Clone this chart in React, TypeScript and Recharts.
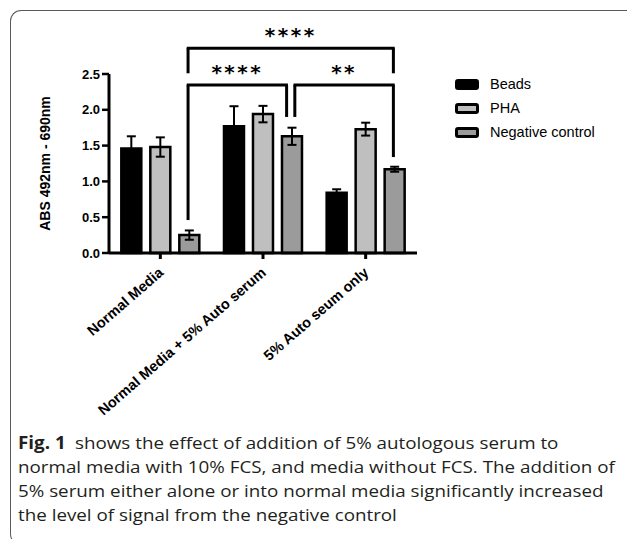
import {
    BarChart,
    Bar,
    XAxis,
    YAxis,
    ErrorBar,
    ReferenceLine,
    ReferenceDot
} from "recharts";

// groups on the x axis
const categories = ["Normal Media", "Normal Media + 5% Auto serum", "5% Auto seum only"];

// series values and their error (SEM)
const beads = [1.46, 1.77, 0.84];
const beadsErr = [0.17, 0.28, 0.05];
const pha = [1.48, 1.94, 1.73];
const phaErr = [0.135, 0.115, 0.09];
const negative = [0.25, 1.63, 1.17];
const negativeErr = [0.065, 0.12, 0.035];

const yTicks = [0, 0.5, 1, 1.5, 2, 2.5];

// significance brackets, x in group units (group i spans i..i+1), y in ABS units
const brackets = [
    { x1: 0.77, x2: 2.77, y1: 2.51, y2: 2.51, top: 2.86, stars: "****" },
    { x1: 0.77, x2: 1.73, y1: 0.46, y2: 1.9, top: 2.345, stars: "****" },
    { x1: 1.81, x2: 2.77, y1: 1.9, y2: 1.34, top: 2.345, stars: "**" }
];

const series = [
    { key: "beads", err: "beadsErr", name: "Beads", color: "#000000" },
    { key: "pha", err: "phaErr", name: "PHA", color: "#bfbfbf" },
    { key: "negative", err: "negativeErr", name: "Negative control", color: "#9b9b9b" }
];

const data = categories.map((name, i) => ({
    name,
    pos: i + 0.5,
    beads: beads[i],
    beadsErr: beadsErr[i],
    pha: pha[i],
    phaErr: phaErr[i],
    negative: negative[i],
    negativeErr: negativeErr[i]
}));

const axisFont = "'Liberation Sans', Arial, sans-serif";

function XTick({ x, y, payload }: any) {
    const tx = x + 4;
    const ty = y + 13;
    return (
        <text x={tx} y={ty} transform={`rotate(-41, ${tx}, ${ty})`} textAnchor="end"
            fontFamily={axisFont} fontWeight="bold" fontSize={14.5} fill="#000">
            {categories[Math.floor(payload.value)]}
        </text>
    );
}

function App() {
    return (
        <div style={{ position: "absolute", left: 0, top: 0, width: 627, height: 539, overflow: "hidden", background: "#fff" }}>
            <div style={{
                position: "absolute", left: 10, top: 10, width: 660, height: 533,
                borderTop: "1.5px solid #5a5a5a", borderLeft: "1.5px solid #5a5a5a", borderBottom: "1.5px solid #5a5a5a",
                borderRadius: 11
            }} />

            <div style={{ position: "absolute", left: 0, top: 0 }}>
                <BarChart width={627} height={430} data={data}
                    margin={{ top: 74, right: 210, bottom: 27, left: 21 }}
                    barCategoryGap="12%" barGap={9}>
                    <XAxis dataKey="pos" type="number" domain={[0, 3]} ticks={[0.5, 1.5, 2.5]}
                        allowDataOverflow height={150} interval={0}
                        axisLine={{ stroke: "#000", strokeWidth: 3 }}
                        tickLine={{ stroke: "#000", strokeWidth: 3 }}
                        tickSize={6} tick={<XTick />} />
                    <YAxis domain={[0, 2.5]} ticks={yTicks} width={88}
                        tickFormatter={(v: number) => v.toFixed(1)}
                        axisLine={{ stroke: "#000", strokeWidth: 3 }}
                        tickLine={{ stroke: "#000", strokeWidth: 2.5 }}
                        tickSize={7} tickMargin={2}
                        tick={{ fill: "#000", fontFamily: axisFont, fontWeight: "bold", fontSize: 13 }}
                        label={{
                            value: "ABS 492nm - 690nm", angle: -90, position: "insideLeft", offset: 24,
                            style: { textAnchor: "middle", fill: "#000", fontFamily: axisFont, fontWeight: "bold", fontSize: 14 }
                        }} />
                    {series.map(s => (
                        <Bar key={s.key} dataKey={s.key} name={s.name} fill={s.color}
                            stroke="#000" strokeWidth={2.5} isAnimationActive={false}>
                            <ErrorBar dataKey={s.err} width={4.5} stroke="#000" strokeWidth={2} direction="y" />
                        </Bar>
                    ))}
                    {brackets.map((b, i) => [
                        <ReferenceLine key={`l${i}`} ifOverflow="visible" stroke="#000" strokeWidth={3}
                            segment={[{ x: b.x1, y: b.y1 }, { x: b.x1, y: b.top }]} />,
                        <ReferenceLine key={`t${i}`} ifOverflow="visible" stroke="#000" strokeWidth={3}
                            segment={[{ x: b.x1 - 0.013, y: b.top }, { x: b.x2 + 0.013, y: b.top }]} />,
                        <ReferenceLine key={`r${i}`} ifOverflow="visible" stroke="#000" strokeWidth={3}
                            segment={[{ x: b.x2, y: b.top }, { x: b.x2, y: b.y2 }]} />,
                        <ReferenceDot key={`s${i}`} ifOverflow="visible" r={0} stroke="none"
                            x={(b.x1 + b.x2) / 2} y={b.top + 0.18}
                            label={{
                                value: b.stars, position: "center",
                                style: { fill: "#000", fontFamily: "'DejaVu Sans', sans-serif", fontWeight: "bold", fontSize: 20, letterSpacing: 2.5 }
                            }} />
                    ])}
                </BarChart>
            </div>

            <div style={{ position: "absolute", left: 455, top: 72, fontFamily: axisFont, fontSize: 14.5, color: "#000" }}>
                {series.map(s => (
                    <div key={s.key} style={{ display: "flex", alignItems: "center", height: 24 }}>
                        <span style={{
                            display: "inline-block", width: 18, height: 5, border: "3px solid #000",
                            borderRadius: 3, background: s.color, marginRight: 11
                        }} />
                        <span>{s.name}</span>
                    </div>
                ))}
            </div>

            <div style={{
                position: "absolute", left: 18, top: 431, fontFamily: "'Open Sans', sans-serif", fontSize: 17,
                lineHeight: "24px", color: "#231f20", whiteSpace: "nowrap",
                transform: "scaleX(1.105)", transformOrigin: "0 0"
            }}>
                <b>Fig. 1</b>{"\u2002"}shows the effect of addition of 5% autologous serum to<br />
                normal media with 10% FCS, and media without FCS. The addition of<br />
                5% serum either alone or into normal media significantly increased<br />
                the level of signal from the negative control
            </div>
        </div>
    );
}

export default App;
